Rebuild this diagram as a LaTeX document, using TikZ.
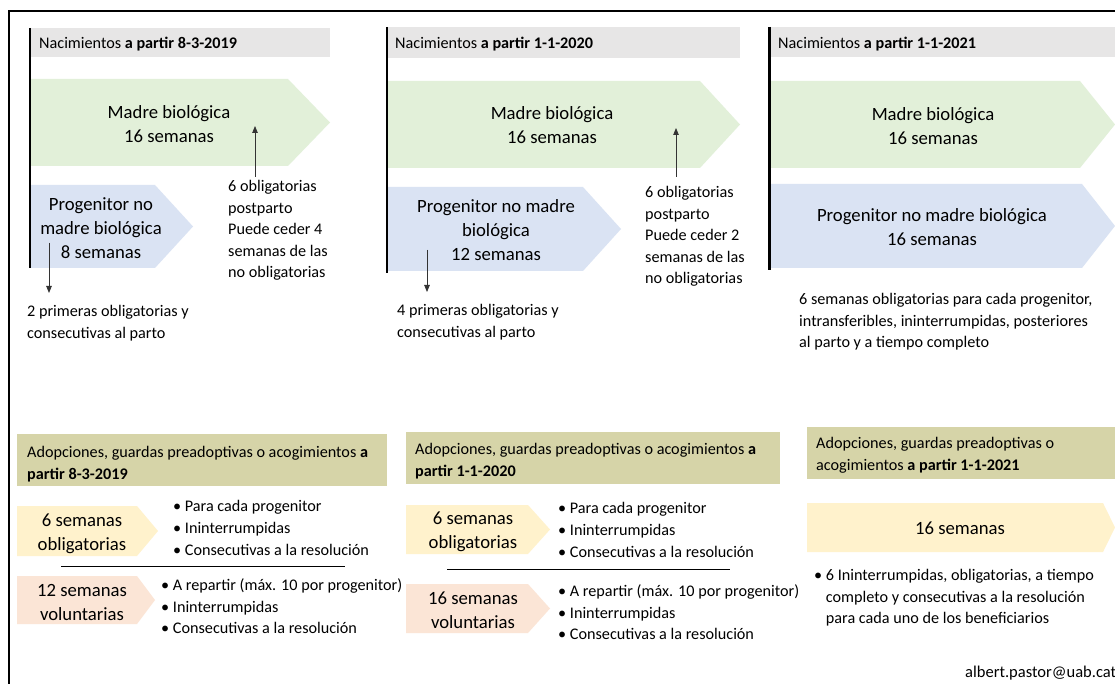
\documentclass[tikz,border=0pt]{standalone}
\usepackage{fontspec}
\setmainfont{Carlito}
\usetikzlibrary{arrows.meta}
\definecolor{hdrgray}{HTML}{E7E6E6}
\definecolor{mgreen}{HTML}{E2F0D9}
\definecolor{pblue}{HTML}{DAE3F3}
\definecolor{olivebg}{HTML}{D6D4A8}
\definecolor{yelbg}{HTML}{FFF2CC}
\definecolor{salbg}{HTML}{FBE5D6}
\begin{document}
\begin{tikzpicture}[x=1pt,y=-1pt,
  big/.style={font=\fontsize{18.7}{24}\selectfont, align=center, inner sep=0},
  hdr/.style={font=\fontsize{16.2}{20}\selectfont, anchor=base west, inner sep=0},
  note/.style={font=\fontsize{16.2}{21.6}\selectfont, align=left, anchor=north west, inner sep=0},
  ptr/.style={-{Triangle[length=7pt,width=5.5pt]}, line width=0.8pt, draw=black!80, fill=black!80},
  bar/.style={line width=2pt},
  sep/.style={line width=1pt},
]
\useasboundingbox (0,0) rectangle (1115,684);
\fill[white] (0,0) rectangle (1115,684);
\draw[line width=2pt] (9,690) -- (9,11) -- (1120,11);

% ---------- Nacimientos 8-3-2019
\fill[hdrgray] (30,28) rectangle (330,57);
\node[hdr] (h1) at (39,48.5) {Nacimientos \textbf{a partir 8-3-2019}};
\fill[mgreen] (30,79) -- (288,79) -- (330,122.5) -- (288,166) -- (30,166) -- cycle;
\node[big] (m1) at (169,124) {Madre biológica\\16 semanas};
\fill[pblue] (30,185) -- (155,185) -- (193,226.5) -- (155,268) -- (30,268) -- cycle;
\node[big] (p1) at (101,228) {Progenitor no\\madre biológica\\8 semanas};
\draw[bar] (30,28) -- (30,268);
\node[note] (n1a) at (228,180) {6 obligatorias\\postparto\\Puede ceder 4\\semanas de las\\no obligatorias};
\coordinate (u1s) at (255,177);
\coordinate (u1e) at (255,126);
\draw[ptr] (u1s) -- (u1e);
\coordinate (d1s) at (49,243);
\coordinate (d1e) at (49,293);
\draw[ptr] (d1s) -- (d1e);
\node[note] (n1b) at (27,305.5) {2 primeras obligatorias y\\consecutivas al parto};

% ---------- Nacimientos 1-1-2020
\fill[hdrgray] (387,27) rectangle (740,58);
\node[hdr] (h2) at (395,48.5) {Nacimientos \textbf{a partir 1-1-2020}};
\fill[mgreen] (387,81) -- (700,81) -- (740,124.5) -- (700,168) -- (387,168) -- cycle;
\node[big] (m2) at (552,125) {Madre biológica\\16 semanas};
\fill[pblue] (387,187) -- (583,187) -- (621,229) -- (583,271) -- (387,271) -- cycle;
\node[big] (p2) at (496,230) {Progenitor no madre\\biológica\\12 semanas};
\draw[bar] (387,27) -- (387,273);
\node[note] (n2a) at (645,186) {6 obligatorias\\postparto\\Puede ceder 2\\semanas de las\\no obligatorias};
\coordinate (u2s) at (676,177);
\coordinate (u2e) at (676,128);
\draw[ptr] (u2s) -- (u2e);
\coordinate (d2s) at (427,250);
\coordinate (d2e) at (427,292);
\draw[ptr] (d2s) -- (d2e);
\node[note] (n2b) at (397,304) {4 primeras obligatorias y\\consecutivas al parto};

% ---------- Nacimientos 1-1-2021
\fill[hdrgray] (769,27) rectangle (1115,57);
\node[hdr] (h3) at (778,48.5) {Nacimientos \textbf{a partir 1-1-2021}};
\fill[mgreen] (769,81) -- (1080,81) -- (1115,124.5) -- (1080,168) -- (769,168) -- cycle;
\node[big] (m3) at (933,126) {Madre biológica\\16 semanas};
\fill[pblue] (769,184) -- (1082,184) -- (1115,226) -- (1082,268) -- (769,268) -- cycle;
\node[big] (p3) at (932,227) {Progenitor no madre biológica\\16 semanas};
\draw[line width=3pt] (769,27) -- (769,270);
\node[note] (n3) at (799,293) {6 semanas obligatorias para cada progenitor,\\intransferibles, ininterrumpidas, posteriores\\al parto y a tiempo completo};

% ---------- Adopciones 8-3-2019
\fill[olivebg] (17,434) rectangle (387,486);
\node[note] (o1) at (27,446) {Adopciones, guardas preadoptivas o acogimientos \textbf{a}\\\textbf{partir 8-3-2019}};
\fill[yelbg] (17,506) -- (137,506) -- (158,531) -- (137,556) -- (17,556) -- cycle;
\node[big] (y1) at (82,534) {6 semanas\\obligatorias};
\node[note] (b1) at (173,500.5) {• Para cada progenitor\\• Ininterrumpidas\\• Consecutivas a la resolución};
\coordinate (l1a) at (61,566);
\coordinate (l1b) at (345,566);
\draw[sep] (l1a) -- (l1b);
\fill[salbg] (17,576) -- (137,576) -- (155,600) -- (137,624) -- (17,624) -- cycle;
\node[big] (s1) at (82,602) {12 semanas\\voluntarias};
\node[note] (b2) at (161,578.5) {• A repartir (máx. 10 por progenitor)\\• Ininterrumpidas\\• Consecutivas a la resolución};

% ---------- Adopciones 1-1-2020
\fill[olivebg] (406,432) rectangle (780,484);
\node[note] (o2) at (415,443) {Adopciones, guardas preadoptivas o acogimientos \textbf{a}\\\textbf{partir 1-1-2020}};
\fill[yelbg] (406,505) -- (528,505) -- (550,529.5) -- (528,554) -- (406,554) -- cycle;
\node[big] (y2) at (473,532) {6 semanas\\obligatorias};
\node[note] (b3) at (558,502.5) {• Para cada progenitor\\• Ininterrumpidas\\• Consecutivas a la resolución};
\coordinate (l2a) at (447,569);
\coordinate (l2b) at (730,569);
\draw[sep] (l2a) -- (l2b);
\fill[salbg] (406,584) -- (528,584) -- (550,608.5) -- (528,633) -- (406,633) -- cycle;
\node[big] (s2) at (473,610) {16 semanas\\voluntarias};
\node[note] (b4) at (558,584.5) {• A repartir (máx. 10 por progenitor)\\• Ininterrumpidas\\• Consecutivas a la resolución};

% ---------- Adopciones 1-1-2021
\fill[olivebg] (807,427) rectangle (1115,479);
\node[note] (o3) at (816,437.5) {Adopciones, guardas preadoptivas o\\acogimientos \textbf{a partir 1-1-2021}};
\fill[yelbg] (807,503) -- (1103,503) -- (1115,527.5) -- (1103,552) -- (807,552) -- cycle;
\node[big, anchor=base] (t3) at (960,534) {16 semanas};
\node[note] (b5) at (814,569) {• 6 Ininterrumpidas, obligatorias, a tiempo\\\hphantom{• }completo y consecutivas a la resolución\\\hphantom{• }para cada uno de los beneficiarios};

\node[note, font=\fontsize{16.5}{20}\selectfont, anchor=base west] (mail) at (965,677) {albert.pastor@uab.cat};
\end{tikzpicture}
\end{document}
